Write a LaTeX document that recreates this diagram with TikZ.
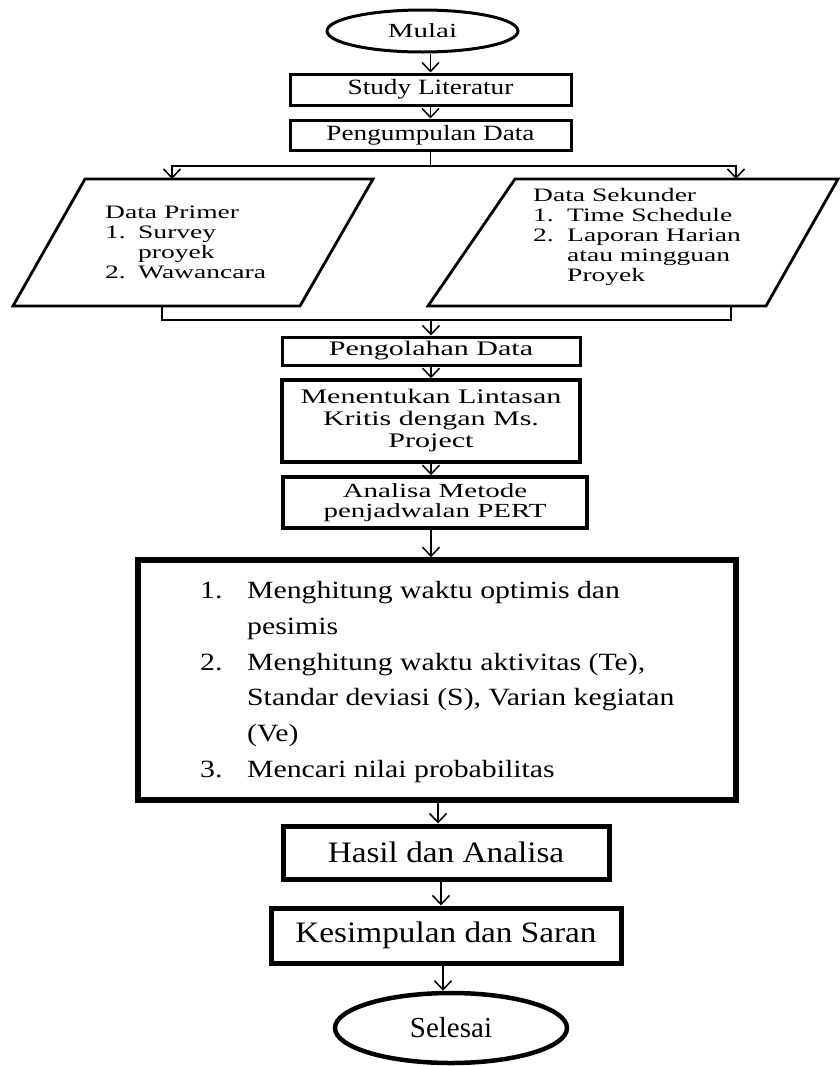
\documentclass[tikz,border=0pt]{standalone}
\usepackage{fontspec}
\setmainfont{Liberation Serif}
\newfontfamily\fA{Liberation Serif}[FakeStretch=1.45]
\newfontfamily\fB{Liberation Serif}[FakeStretch=1.25]
\newfontfamily\fC{Liberation Serif}[FakeStretch=1.2]
\newfontfamily\fD{Liberation Serif}[FakeStretch=1.12]
\newfontfamily\fE{Liberation Serif}[FakeStretch=1.0]
\usetikzlibrary{arrows.meta,shapes.geometric}
\newcommand{\fsz}[2]{\fontsize{#1}{#2}\selectfont}
\lineskiplimit=-50pt
\begin{document}
\begin{tikzpicture}[x=1pt,y=-1pt,
  conn/.style={line width=1.5pt},
  arr/.style={conn,-{Straight Barb[length=9pt,width=17pt]}},
  box/.style={draw,rectangle,inner sep=0pt,align=center},
  oval/.style={draw,ellipse,inner sep=0pt},
  para/.style={line width=2.8pt,line join=miter},
  txt/.style={inner sep=0pt,align=left,anchor=north west}]
\fill[white] (0,0) rectangle (839,1066);
\useasboundingbox (0,0) rectangle (839,1066);

\node[oval,line width=3pt,minimum width=191pt,minimum height=42pt,font=\fA\fsz{20}{22}] (mulai) at (422.5,31) {Mulai};
\node[box,line width=3pt,minimum width=281pt,minimum height=31pt,font=\fB\fsz{21.8}{24}] (study) at (430.5,89.5) {Study Literatur};
\node[box,line width=3pt,minimum width=281pt,minimum height=30pt,font=\fB\fsz{21.8}{24}] (kumpul) at (430.5,135) {Pengumpulan Data};

\coordinate (split) at (430.5,166);
\coordinate (inL) at (172,179);
\coordinate (inR) at (736,179);
\draw[para] (13,306) -- (300,306) -- (373,179) -- (85,179) -- cycle;
\draw[para] (428,306) -- (766,306) -- (838,179) -- (515,179) -- cycle;
\node[txt,font=\fA\fsz{19}{20}] (primer) at (105,205.3) {Data Primer\\\makebox[33pt][l]{1.}Survey\\\hspace*{33pt}proyek\\\makebox[33pt][l]{2.}Wawancara};
\node[txt,font=\fA\fsz{19}{20}] (sekunder) at (533,188.3) {Data Sekunder\\\makebox[34pt][l]{1.}Time Schedule\\\makebox[34pt][l]{2.}Laporan Harian\\\hspace*{34pt}atau mingguan\\\hspace*{34pt}Proyek};
\coordinate (outL) at (162,306);
\coordinate (outR) at (731,306);
\coordinate (merge) at (431,320);

\node[box,line width=3pt,minimum width=298pt,minimum height=28pt,font=\fA\fsz{20.7}{22}] (olah) at (431,351) {Pengolahan Data};
\node[box,line width=3.5pt,minimum width=298pt,minimum height=82pt,font=\fA\fsz{20.7}{22}] (tentukan) at (431,421) {Menentukan Lintasan\\Kritis dengan Ms.\\Project};
\node[box,line width=3.5pt,minimum width=304pt,minimum height=51pt,font=\fA\fsz{20}{19.5}] (analisa) at (435,502.5) {Analisa Metode\\penjadwalan PERT};

\node[box,line width=5.5pt,minimum width=598pt,minimum height=240pt] (big) at (437,680) {};
\node[txt,font=\fC\fsz{24.8}{35.7}] (langkah) at (200,581.3) {\makebox[47pt][l]{1.}Menghitung waktu optimis dan\\\hspace*{47pt}pesimis\\\makebox[47pt][l]{2.}Menghitung waktu aktivitas (Te),\\\hspace*{47pt}Standar deviasi (S), Varian kegiatan\\\hspace*{47pt}(Ve)\\\makebox[47pt][l]{3.}Mencari nilai probabilitas};

\node[box,line width=5pt,minimum width=326pt,minimum height=53pt,font=\fD\fsz{29.7}{32}] (hasil) at (446,852.5) {Hasil dan Analisa};
\node[box,line width=5pt,minimum width=350pt,minimum height=55pt,font=\fD\fsz{29.7}{32}] (simpul) at (446,935.5) {Kesimpulan dan Saran};
\node[oval,line width=4.5pt,minimum width=232pt,minimum height=70pt,font=\fE\fsz{29}{32}] (selesai) at (451,1028) {Selesai};

\coordinate (ax) at (438,0);
\coordinate (bx) at (441,0);
\coordinate (cx) at (443,0);

\draw[arr] (mulai.south -| study.north) -- (study.north);
\draw[arr] (study.south) -- (kumpul.north);
\draw[conn] (kumpul.south) -- (split);
\draw[arr] (split) -| (inL);
\draw[arr] (split) -| (inR);
\draw[conn] (outL) |- (merge);
\draw[conn] (outR) |- (merge);
\draw[arr] (merge) -- (olah.north);
\draw[arr] (olah.south) -- (tentukan.north);
\draw[arr] (tentukan.south) -- (tentukan.south |- analisa.north);
\draw[arr] (analisa.south -| tentukan.south) -- (big.north -| tentukan.south);
\draw[arr] (big.south -| ax) -- (hasil.north -| ax);
\draw[arr] (hasil.south -| bx) -- (simpul.north -| bx);
\draw[arr] (simpul.south -| cx) -- (selesai.north -| cx);
\end{tikzpicture}
\end{document}
